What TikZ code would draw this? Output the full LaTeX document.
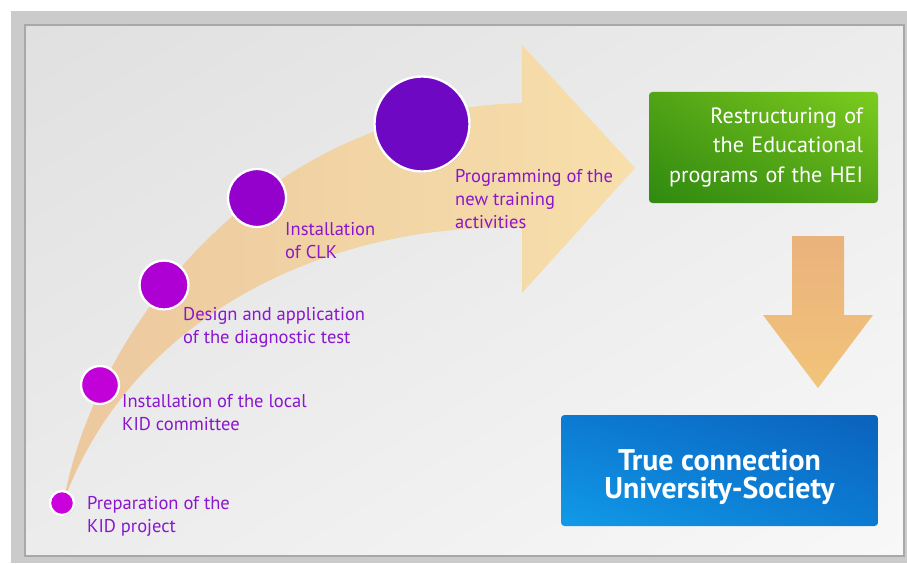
\documentclass[tikz,border=0pt]{standalone}
\usepackage{fontspec}
\setmainfont{PT Sans}
\usetikzlibrary{shadows,shadings}

\definecolor{framegray}{RGB}{203,203,203}
\definecolor{frameline}{RGB}{168,168,168}
\definecolor{bgdark}{RGB}{224,224,224}
\definecolor{bgmid}{RGB}{236,236,236}
\definecolor{bglight}{RGB}{248,248,248}
\definecolor{bandorange}{RGB}{236,200,158}
\definecolor{bandyellow}{RGB}{247,223,171}
\definecolor{stepA}{RGB}{204,0,220}
\definecolor{stepB}{RGB}{194,0,216}
\definecolor{stepC}{RGB}{174,0,212}
\definecolor{stepD}{RGB}{148,0,204}
\definecolor{stepE}{RGB}{110,8,194}
\definecolor{labelpurple}{RGB}{138,22,206}
\definecolor{greenA}{RGB}{47,138,16}
\definecolor{greenB}{RGB}{124,205,30}
\definecolor{greenC}{RGB}{82,163,22}
\definecolor{blueA}{RGB}{17,154,232}
\definecolor{blueB}{RGB}{11,98,189}
\definecolor{blueC}{RGB}{12,122,210}
\definecolor{downA}{RGB}{234,178,124}
\definecolor{downB}{RGB}{242,196,122}

\begin{document}
\begin{tikzpicture}[x=0.03cm, y=-0.03cm,
    stepdot/.style={circle, draw=white, line width=2pt, inner sep=0pt,
        drop shadow={shadow xshift=0.7pt, shadow yshift=-0.9pt, opacity=0.35, fill=violet!60!black}},
    steplabel/.style={anchor=base west, inner sep=0pt, align=left, text=labelpurple,
        font=\fontsize{15.8}{19.6}\selectfont},
    resultbox/.style={rounded corners=3pt, text=white, minimum height=3.33cm, inner sep=0pt}]

% Frame and background
\useasboundingbox (0,0) rectangle (907,563);
\fill[white] (0,0) rectangle (907,563);
\fill[framegray] (11,11) rectangle (907,563);
\shade[upper left=bgdark, lower left=bgmid, upper right=bgmid, lower right=bglight]
    (25,25) rectangle (904,556);
\draw[frameline, line width=1pt] (25,25) rectangle (904,556);

% Curved arrow
\shade[left color=bandorange, right color=bandyellow]
    (64,500) .. controls (95,330) and (260,110) .. (522,103)
    -- (522,45) -- (635,168) -- (522,293) -- (522,228)
    .. controls (350,222) and (140,300) .. (64,500) -- cycle;

% Steps along the arrow
\foreach \n/\x/\y/\d/\c in {1/62/503/0.72/stepA, 2/100/385/1.14/stepB,
        3/164/285/1.47/stepC, 4/257/198/1.74/stepD, 5/422/124/2.85/stepE}
    \node[stepdot, fill=\c, minimum size=\d cm] (s\n) at (\x,\y) {};

% Step labels (anchored at the last line)
\node[steplabel] (l1) at (87,532) {Preparation of the\\KID project};
\node[steplabel] (l2) at (122,430) {Installation of the local\\KID committee};
\node[steplabel] (l3) at (183,343) {Design and application\\of the diagnostic test};
\node[steplabel] (l4) at (285,258) {Installation\\of CLK};
\node[steplabel] (l5) at (455,228) {Programming of the\\new training\\activities};

% Results
\node[resultbox, lower left=greenA, upper right=greenB, upper left=greenC, lower right=greenC,
    minimum width=6.87cm, text width=5.97cm, align=right,
    font=\fontsize{18.9}{25.3}\selectfont] (hei) at (763.5,147.5)
    {Restructuring of\\the Educational\\programs of the HEI};

\shade[top color=downA, bottom color=downB]
    (792,236) -- (844,236) -- (844,315) -- (873,315) -- (818,388)
    -- (763,315) -- (792,315) -- cycle;

\node[resultbox, lower left=blueA, upper right=blueB, upper left=blueC, lower right=blueC,
    minimum width=9.51cm, align=center,
    font=\fontsize{25.5}{23.5}\selectfont\bfseries] (society) at (719.5,470.5)
    {\rule{0pt}{1.15em}True connection\\University-Society};

\end{tikzpicture}
\end{document}
